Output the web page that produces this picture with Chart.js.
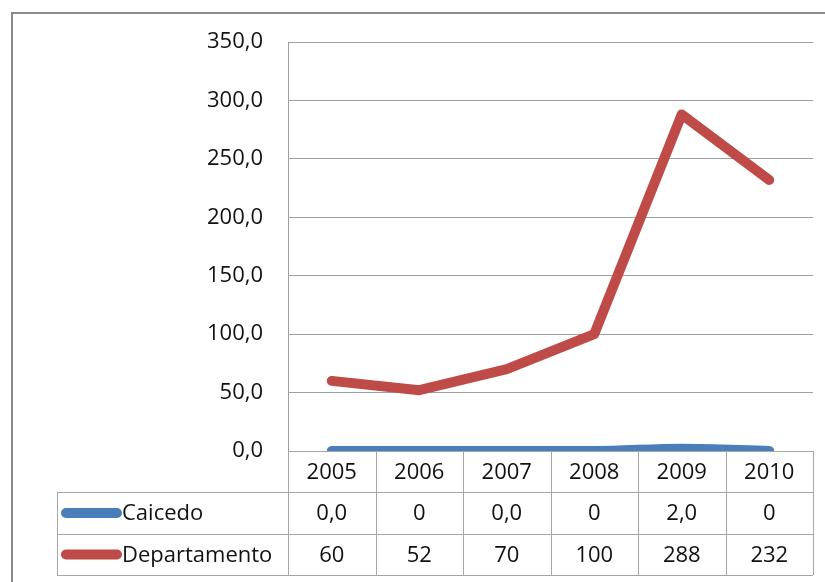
<!DOCTYPE html>
<html>
<head>
<meta charset="utf-8">
<script src="https://cdn.jsdelivr.net/npm/chart.js@4.4.0/dist/chart.umd.min.js"></script>
<style>
  html, body { margin: 0; padding: 0; background: #fff; }
  #wrap { width: 825px; height: 582px; position: relative; }
</style>
</head>
<body>
<div id="wrap"><canvas id="myChart" width="825" height="582"></canvas></div>
<script>
// chart data
const years = ['2005', '2006', '2007', '2008', '2009', '2010'];
const caicedo = [0, 0, 0, 0, 2, 0];
const departamento = [60, 52, 70, 100, 288, 232];
// labels as printed in the data table
const caicedoTable = ['0,0', '0', '0,0', '0', '2,0', '0'];
const departamentoTable = ['60', '52', '70', '100', '288', '232'];
const yTicks = [0, 50, 100, 150, 200, 250, 300, 350];

const FONT = '"Open Sans", "Noto Sans", sans-serif';
const GRID = '#a0a0a0';
const TABLE_LINE = '#a6a6a6';

const fmt = (v) => v.toFixed(1).replace('.', ',');

// draws the outer frame and the data table under the plot
const tablePlugin = {
  id: 'dataTable',
  beforeDraw(chart) {
    const ctx = chart.ctx;
    ctx.save();
    ctx.strokeStyle = '#8a8a8a';
    ctx.lineWidth = 2;
    ctx.beginPath();
    ctx.moveTo(12, 582);
    ctx.lineTo(12, 13);
    ctx.lineTo(825, 13);
    ctx.stroke();
    ctx.restore();
  },
  afterDatasetsDraw(chart) {
    const ctx = chart.ctx;
    const x = chart.scales.x;
    const area = chart.chartArea;
    const top = area.bottom;
    const row1 = top + 41;
    const row2 = top + 83;
    const bottom = top + 124;
    const legendLeft = 57;
    const step = (area.right - area.left) / years.length;

    ctx.save();
    ctx.fillStyle = '#fff';
    ctx.fillRect(area.left, top + 1, area.right - area.left + 1, row1 - top);
    ctx.fillRect(legendLeft, row1, area.right - legendLeft + 1, bottom - row1);

    ctx.strokeStyle = TABLE_LINE;
    ctx.lineWidth = 1;
    ctx.beginPath();
    // horizontals
    ctx.moveTo(area.left, top + 0.5); ctx.lineTo(area.right, top + 0.5);
    [row1, row2, bottom].forEach(y => {
      ctx.moveTo(legendLeft, y + 0.5); ctx.lineTo(area.right, y + 0.5);
    });
    // verticals
    ctx.moveTo(legendLeft + 0.5, row1); ctx.lineTo(legendLeft + 0.5, bottom);
    for (let i = 0; i <= years.length; i++) {
      const xx = Math.round(area.left + i * step) + 0.5;
      ctx.moveTo(xx, top); ctx.lineTo(xx, bottom);
    }
    ctx.stroke();

    ctx.fillStyle = '#111';
    ctx.font = '22px ' + FONT;
    ctx.textAlign = 'center';
    ctx.textBaseline = 'middle';
    years.forEach((yr, i) => {
      const cx = x.getPixelForValue(i);
      ctx.fillText(yr, cx, (top + row1) / 2 + 1);
      ctx.fillText(caicedoTable[i], cx, (row1 + row2) / 2 + 1);
      ctx.fillText(departamentoTable[i], cx, (row2 + bottom) / 2 + 1);
    });

    // legend keys
    const keys = [
      { label: 'Caicedo', color: chart.data.datasets[0].borderColor, y: (row1 + row2) / 2 },
      { label: 'Departamento', color: chart.data.datasets[1].borderColor, y: (row2 + bottom) / 2 }
    ];
    keys.forEach(k => {
      ctx.strokeStyle = k.color;
      ctx.lineWidth = 10;
      ctx.lineCap = 'round';
      ctx.beginPath();
      ctx.moveTo(66, k.y); ctx.lineTo(117, k.y);
      ctx.stroke();
      ctx.fillStyle = '#111';
      ctx.textAlign = 'left';
      ctx.fillText(k.label, 122, k.y + 1);
    });
    ctx.restore();
  }
};

const ctx = document.getElementById('myChart').getContext('2d');
new Chart(ctx, {
  type: 'line',
  data: {
    labels: years,
    datasets: [
      {
        label: 'Caicedo',
        data: caicedo,
        borderColor: '#4a7ebb',
        borderWidth: 10,
        tension: 0.4,
        cubicInterpolationMode: 'monotone',
        borderCapStyle: 'round',
        borderJoinStyle: 'round',
        pointRadius: 0,
        clip: { left: 20, right: 20, top: 20, bottom: 0 }
      },
      {
        label: 'Departamento',
        data: departamento,
        borderColor: '#be4b48',
        borderWidth: 10,
        tension: 0,
        borderCapStyle: 'round',
        borderJoinStyle: 'round',
        pointRadius: 0,
        clip: { left: 20, right: 20, top: 20, bottom: 0 }
      }
    ]
  },
  options: {
    responsive: false,
    animation: false,
    layout: { padding: { left: 0, right: 12, top: 42, bottom: 131 } },
    plugins: { legend: { display: false }, tooltip: { enabled: false } },
    scales: {
      x: {
        display: false,
        offset: true
      },
      y: {
        min: 0,
        max: 350,
        afterFit(scale) { scale.width = 288; },
        afterBuildTicks(scale) { scale.ticks = yTicks.map(v => ({ value: v })); },
        ticks: {
          padding: 25,
          color: '#111',
          font: { family: FONT, size: 22 },
          callback: (v) => fmt(v)
        },
        grid: { color: GRID, drawTicks: false },
        border: { display: true, color: GRID }
      }
    }
  },
  plugins: [tablePlugin]
});
</script>
</body>
</html>
